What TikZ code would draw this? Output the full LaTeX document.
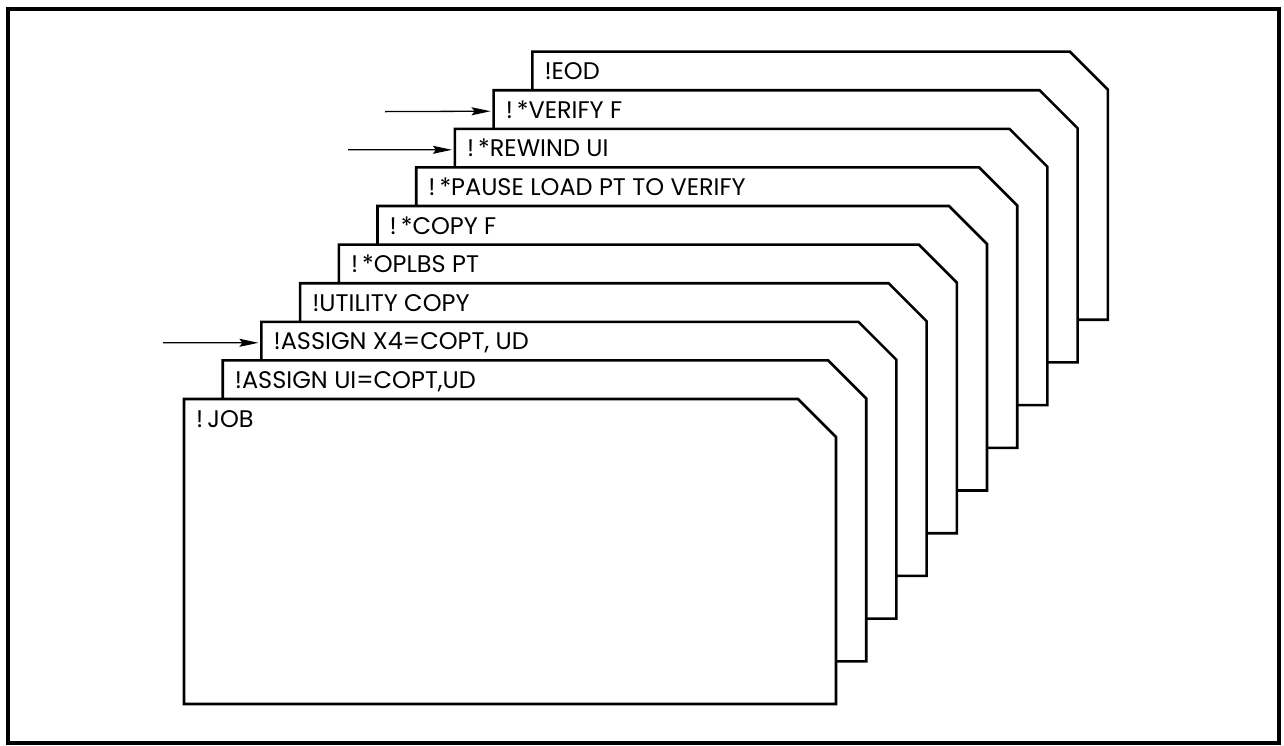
\documentclass[tikz,border=0pt]{standalone}
\usepackage{fontspec}
\setmainfont{Poppins}
\usetikzlibrary{arrows.meta}
\begin{document}
\begin{tikzpicture}[x=1pt,y=-1pt,
  card/.style={draw=black, line width=2.6pt, fill=white, line join=miter},
  lbl/.style={anchor=base west, inner sep=0pt, font=\fontsize{24}{24}\selectfont},
  arr/.style={line width=1.3pt, shorten >=3pt, -{Stealth[length=19pt,width=8pt,inset=3pt]}}]
\useasboundingbox (0,0) rectangle (1284,745);
\draw[line width=3.5pt] (8,9) rectangle (1279,743);
\foreach \i/\t in {9/{!EOD}, 8/{!\,*VERIFY F}, 7/{!\,*REWIND UI}, 6/{!\,*PAUSE LOAD PT TO VERIFY}, 5/{!\,*COPY F}, 4/{!\,*OPLBS PT}, 3/{!UTILITY COPY}, 2/{!ASSIGN X4=COPT, UD}, 1/{!ASSIGN UI=COPT,UD}, 0/{!\,JOB}} {
  \pgfmathsetmacro\L{184+38.7*\i}
  \pgfmathsetmacro\T{399-38.6*\i}
  \pgfmathsetmacro\R{836+30.2*\i}
  \pgfmathsetmacro\B{704-42.7*\i}
  \draw[card] (\L,\B) -- (\L,\T) -- (\R-38,\T) -- (\R,\T+38) -- (\R,\B) -- cycle;
  \node[lbl] (c\i) at (\L+12,\T+28) {\t};
  \coordinate (e\i) at (\L,\T+21);
}
\coordinate (s8) at (385,111.6);
\coordinate (s7) at (348,149.8);
\coordinate (s2) at (163,342.8);
\draw[arr] (s8) -- (e8);
\draw[arr] (s7) -- (e7);
\draw[arr] (s2) -- (e2);
\end{tikzpicture}
\end{document}
